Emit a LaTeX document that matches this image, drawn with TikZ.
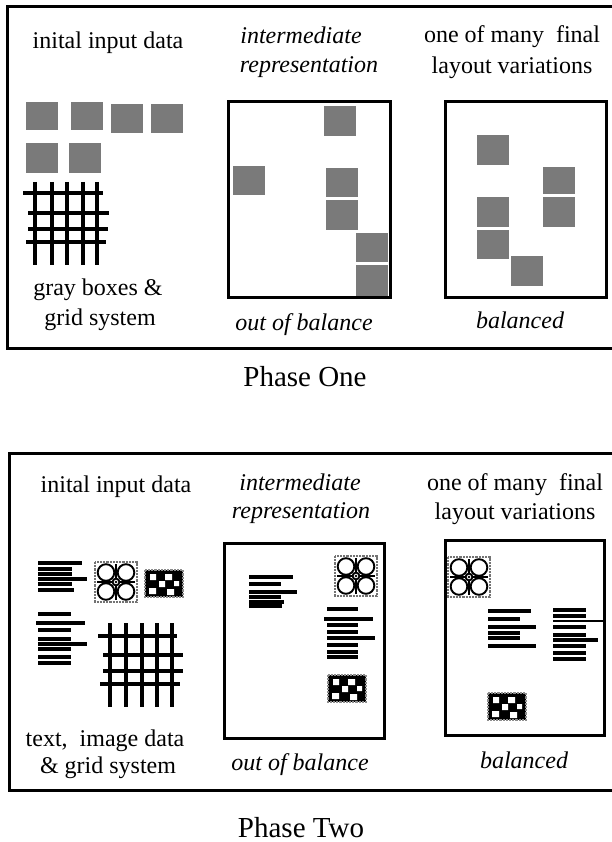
\documentclass[tikz,border=0pt]{standalone}
\usepackage{fontspec}
\setmainfont{Liberation Serif}
\newcommand\flowerimg[2]{%
  \begin{scope}[shift={(#1,#2)}]
    \fill[white] (0,0) rectangle (42,40);
    \draw[black!55, line width=2.2pt, densely dotted] (0,0) rectangle (42,40);
    \draw[line width=1.9pt] (11,10.5) circle (8.3) (31,10.5) circle (8.3)
      (11,29.5) circle (8.3) (31,29.5) circle (8.3);
    \draw[line width=1.9pt] (21,20) circle (3.4);
    \fill (21,20) circle (1.3);
    \draw[line width=1.9pt] (17.6,20) -- (2,20) (24.4,20) -- (40,20)
      (21,16.6) -- (21,2) (21,23.4) -- (21,38);
  \end{scope}}
\newcommand\checkimg[2]{%
  \begin{scope}[shift={(#1,#2)}]
    \fill[black] (0,0) rectangle (38,27);
    \draw[black!45, line width=2.2pt, densely dotted] (0,0) rectangle (38,27);
    \fill[white] (5,4) rectangle ++(6,6) (20,4) rectangle ++(7,6)
      (14,11) rectangle ++(6,6) (29,11) rectangle ++(5,5)
      (4,18) rectangle ++(7,6) (22,19) rectangle ++(7,6);
  \end{scope}}
\begin{document}
\begin{tikzpicture}[x=1pt,y=-1pt,
  lbl/.style={anchor=base, inner sep=0pt, font=\fontsize{24}{28}\selectfont},
  ilbl/.style={anchor=base, inner sep=0pt, font=\fontsize{24}{28}\selectfont\itshape},
  ttl/.style={anchor=base, inner sep=0pt, font=\fontsize{29}{34}\selectfont},
  outerframe/.style={line width=3pt, line join=miter},
  innerframe/.style={line width=3pt},
  gbox/.style={fill=black!52},
  gridline/.style={line width=4.5pt},
  bar/.style={line width=3.6pt},
]
\useasboundingbox (0,0) rectangle (612,842);
\fill[white] (0,0) rectangle (612,842);

% ================= Phase One =================
\draw[outerframe] (612,7) -- (7,7) -- (7,348) -- (612,348);
\draw[innerframe] (228,102) rectangle (390,297);
\draw[innerframe] (445,102) rectangle (606,297);

\node[lbl] (t1in) at (108,49) {inital input data};
\node[ilbl] (t1im) at (301,44) {intermediate};
\node[ilbl] (t1rep) at (309,73) {representation};
\node[lbl] (t1one) at (512,43) {one of many\ \ final};
\node[lbl] (t1lay) at (512,74) {layout variations};
\node[lbl] (t1gray) at (98,295) {gray boxes \&};
\node[lbl] (t1grid) at (100,325) {grid system};
\node[ilbl] (t1oob) at (304,330) {out of balance};
\node[ilbl] (t1bal) at (520,328) {balanced};
\node[ttl] (phone) at (305,386) {Phase One};

% input gray boxes
\fill[gbox] (26,102) rectangle (58,130);
\fill[gbox] (71,102) rectangle (103,130);
\fill[gbox] (111,104) rectangle (143,133);
\fill[gbox] (151,104) rectangle (183,133);
\fill[gbox] (26,143) rectangle (58,173);
\fill[gbox] (69,143) rectangle (101,173);
% grid
\foreach \gx in {35,52,67,83,97} \draw[gridline] (\gx,182) -- (\gx,265);
\draw[gridline] (23,193) -- (103,193);
\draw[gridline] (28,213) -- (109,213);
\draw[gridline] (28,229) -- (108,229);
\draw[gridline] (26,242) -- (106,242);
% intermediate
\fill[gbox] (324,106) rectangle (356,136);
\fill[gbox] (233,166) rectangle (265,195);
\fill[gbox] (326,168) rectangle (358,197);
\fill[gbox] (326,200) rectangle (358,230);
\fill[gbox] (356,233) rectangle (388,262);
\fill[gbox] (356,265) rectangle (388,296);
% balanced
\fill[gbox] (477,135) rectangle (509,165);
\fill[gbox] (543,167) rectangle (575,194);
\fill[gbox] (543,197) rectangle (575,227);
\fill[gbox] (477,197) rectangle (509,227);
\fill[gbox] (477,230) rectangle (509,259);
\fill[gbox] (511,256) rectangle (543,286);

% ================= Phase Two =================
\draw[outerframe] (612,453) -- (9,453) -- (9,790) -- (612,790);
\draw[innerframe] (224,543) rectangle (384,738);
\draw[innerframe] (445,540) rectangle (604,735);

\node[lbl] (b1in) at (116,492) {inital input data};
\node[ilbl] (b1im) at (300,490) {intermediate};
\node[ilbl] (b1rep) at (301,518) {representation};
\node[lbl] (b1one) at (515,490) {one of many\ \ final};
\node[lbl] (b1lay) at (515,519) {layout variations};
\node[lbl] (b1txt) at (105,746) {text,\ \ image data};
\node[lbl] (b1grid) at (108,773) {\& grid system};
\node[ilbl] (b1oob) at (300,770) {out of balance};
\node[ilbl] (b1bal) at (524,768) {balanced};
\node[ttl] (phtwo) at (301,837) {Phase Two};

% input text blocks
\draw[bar] (38,563) -- (82,563) (38,569) -- (72,569) (38,574) -- (72,574)
  (38,579) -- (87,579) (38,584) -- (72,584) (38,590) -- (74,590);
\draw[bar] (38,614) -- (71,614) (36,623) -- (85,623) (38,630) -- (71,630)
  (38,639) -- (71,639) (38,644) -- (87,644) (38,649) -- (71,649)
  (38,657) -- (71,657) (38,663) -- (71,663);
\flowerimg{95}{562}
\checkimg{145}{570}
% input grid
\foreach \gx in {110,126,142,157,172} \draw[gridline] (\gx,623) -- (\gx,707);
\draw[gridline] (98,636) -- (177,636);
\draw[gridline] (103,655) -- (183,655);
\draw[gridline] (103,671) -- (183,671);
\draw[gridline] (100,684) -- (180,684);

% intermediate
\draw[bar] (249,577) -- (293,577) (249,584) -- (281,584) (249,592) -- (297,592)
  (249,597) -- (281,597) (249,602) -- (284,602) (249,606) -- (282,606);
\flowerimg{335}{556}
\draw[bar] (327,609) -- (358,609) (324,619) -- (373,619) (327,625) -- (358,625)
  (327,632) -- (358,632) (327,638) -- (375,638) (327,645) -- (358,645)
  (327,652) -- (358,652) (327,657) -- (358,657);
\checkimg{328}{675}

% balanced
\flowerimg{448}{557}
\draw[bar] (488,611) -- (531,611) (488,619) -- (520,619) (488,627) -- (536,627)
  (488,633) -- (520,633) (488,638) -- (520,638) (488,646) -- (536,646);
\draw[bar] (553,610) -- (586,610) (553,616) -- (586,616) (553,627) -- (586,627)
  (553,635) -- (586,635) (553,646) -- (586,646) (553,653) -- (586,653)
  (553,659) -- (586,659) (553,640) -- (598,640);
\draw[line width=1.5pt] (553,621) -- (604,621);
\checkimg{488}{693}
\end{tikzpicture}
\end{document}
